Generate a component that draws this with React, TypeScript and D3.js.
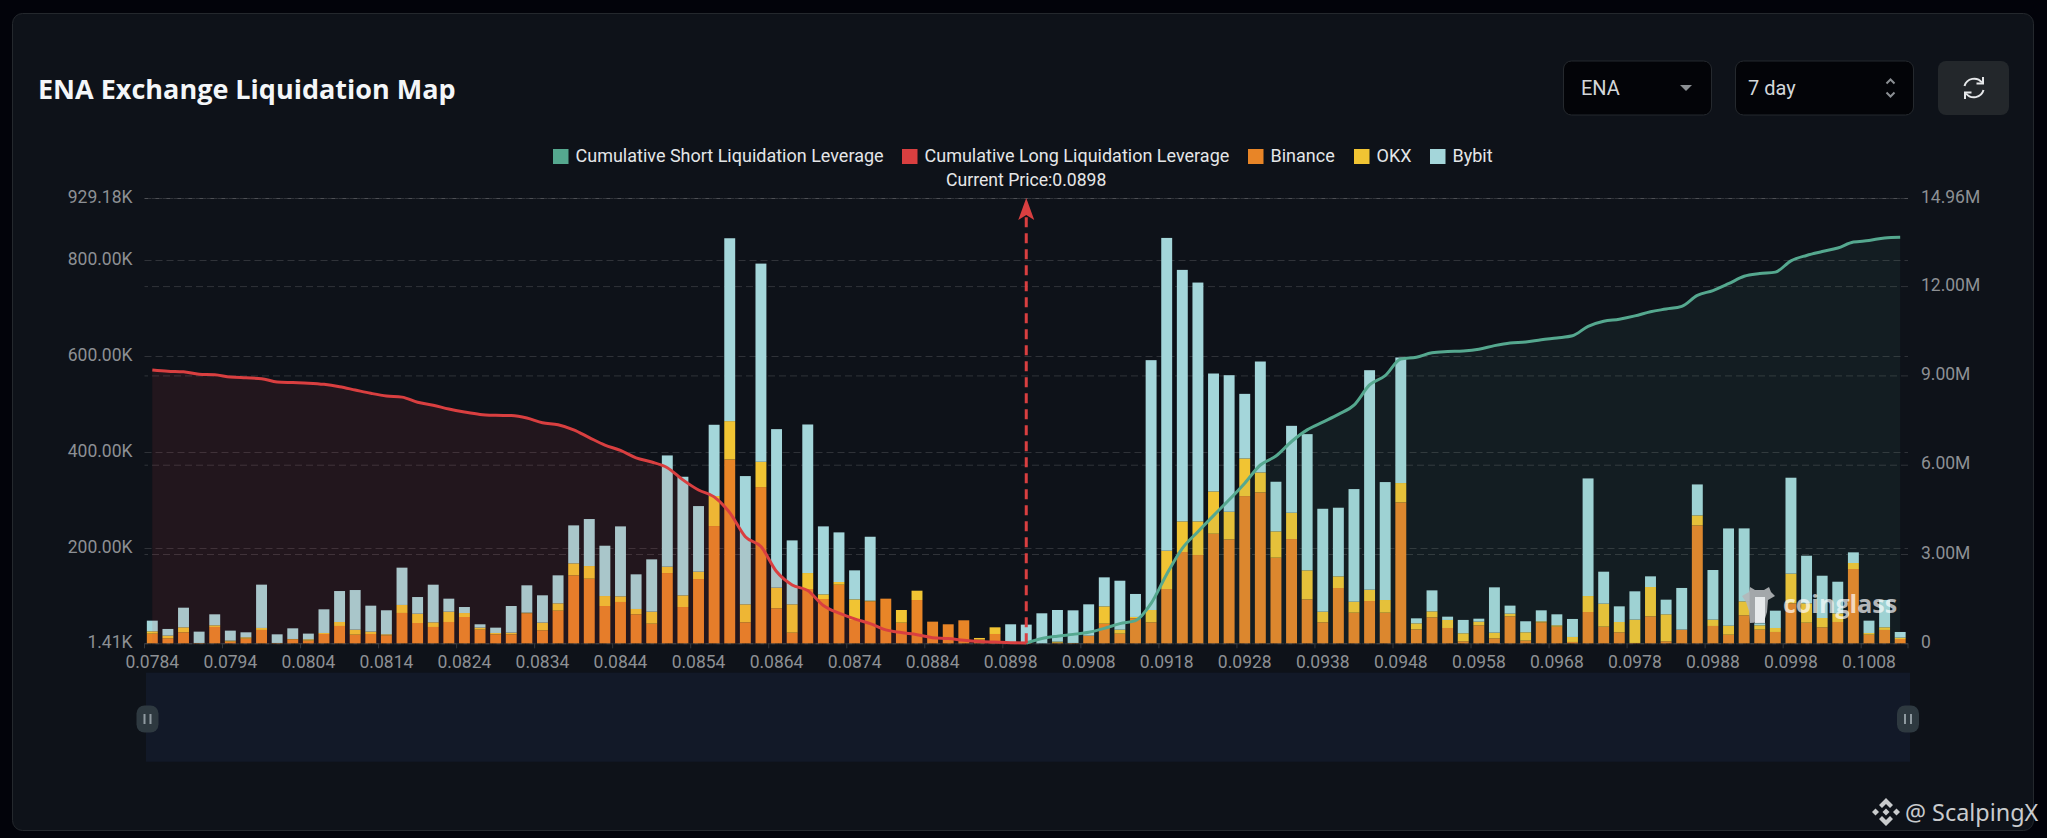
import { useEffect, useRef } from "react";
import * as d3 from "d3";

const prices = [
  0.0784, 0.0786, 0.0788, 0.079, 0.0792, 0.0794, 0.0796, 0.0798, 0.08, 0.0802, 0.0804, 0.0806, 0.0808, 0.081, 0.0812,
  0.0814, 0.0816, 0.0818, 0.082, 0.0822, 0.0824, 0.0826, 0.0828, 0.083, 0.0832, 0.0834, 0.0836, 0.0838, 0.084, 0.0842,
  0.0844, 0.0846, 0.0848, 0.085, 0.0852, 0.0854, 0.0856, 0.0858, 0.086, 0.0862, 0.0864, 0.0866, 0.0868, 0.087, 0.0872,
  0.0874, 0.0876, 0.0878, 0.088, 0.0882, 0.0884, 0.0887, 0.0889, 0.0892, 0.0895, 0.08976, 0.08984, 0.09, 0.0903, 0.0905,
  0.0908, 0.091, 0.0912, 0.0914, 0.0916, 0.0918, 0.092, 0.0922, 0.0924, 0.0926, 0.0928, 0.093, 0.0932, 0.0934, 0.0936,
  0.0938, 0.094, 0.0942, 0.0944, 0.0946, 0.0948, 0.095, 0.0952, 0.0954, 0.0956, 0.0958, 0.096, 0.0962, 0.0964, 0.0966,
  0.0968, 0.097, 0.0972, 0.0974, 0.0976, 0.0978, 0.098, 0.0982, 0.0984, 0.0986, 0.0988, 0.099, 0.0992, 0.0994, 0.0996,
  0.0998, 0.1, 0.1002, 0.1004, 0.1006, 0.1008, 0.101, 0.1012,
];

// thousands, one value per price
const binance = [
  20.1, 10.4, 22.9, 0.7, 34, 3.5, 9.7, 27.8, 0.7, 8.3, 5.6, 19.4, 36.1, 18, 19.4, 16.7, 63.2, 42.3, 34, 44.4, 54.8, 28.5,
  18.7, 18.7, 62.5, 27.1, 68, 141.6, 134.6, 77.7, 86.1, 60.4, 40.9, 146.4, 75.6, 133.9, 244.3, 383.1, 43.7, 325.5, 72.9,
  22.2, 113.1, 92.3, 122.1, 48.6, 87.4, 93, 43, 90.2, 45.1, 39.6, 47.9, 8.3, 19.4, 0.7, 0.7, 0, 1.4, 0.7, 16, 40.9, 20.1,
  52.1, 43.7, 113.1, 190.2, 183.9, 228.3, 216.5, 306.7, 314.4, 178.4, 217.2, 91.6, 43.7, 115.2, 63.8, 88.1, 63.8, 293.6,
  29.1, 54.1, 31.9, 4.2, 37.5, 10.4, 56.2, 5.6, 43.7, 34.7, 2.8, 65.2, 34.7, 22.9, 0.7, 56.2, 4.2, 28.5, 245.7, 36.1, 18,
  58.3, 28.5, 23.6, 83.3, 43, 33.3, 44.4, 154.8, 18, 27.8, 9,
];
const okx = [
  4.9, 5.6, 10.4, 0, 3.5, 2.1, 2.8, 4.2, 0, 0.7, 2.8, 2.1, 8.3, 10.4, 4.9, 2.1, 16.7, 19.4, 9.7, 21.5, 8.3, 4.2, 2.8, 3.5,
  1.4, 16, 15.3, 25, 26.4, 20.8, 11.8, 11.1, 25, 13.2, 24.3, 15.3, 62.5, 79.8, 37.5, 52.7, 43, 59, 33.3, 9.7, 5.6, 43, 1.4,
  0, 26.4, 19.4, 0, 0, 0, 2.8, 13.9, 0, 0, 0, 2.1, 0, 0, 36.1, 8.3, 2.8, 25.7, 79.8, 63.8, 70.1, 88.1, 57.6, 78.4, 41.6,
  54.8, 54.8, 60.4, 22.2, 24.3, 22.9, 23.6, 26.4, 40.3, 12.5, 12.5, 16.7, 16.7, 7.6, 11.8, 5.6, 17.4, 2.1, 2.8, 10.4, 33.3,
  47.9, 21.5, 48.6, 61.1, 56.2, 0, 20.8, 13.2, 18.7, 29.1, 9, 8.3, 61.8, 40.3, 19.4, 18, 12.5, 3.5, 5.6, 2.8,
];
const bybit = [
  22.2, 13.9, 40.9, 23.6, 22.9, 20.8, 10.4, 90.2, 18, 22.2, 11.8, 49.3, 64.5, 82.6, 54.1, 50, 77.7, 34.7, 78.4, 27.1, 12.5,
  6.9, 11.1, 55.5, 56.9, 56.9, 58.3, 79.1, 97.9, 104.8, 145.7, 72.2, 109, 231.8, 247.1, 136.7, 148.5, 381, 267.2, 412.9,
  330.3, 133.2, 309.5, 141.6, 103.4, 60.4, 133.2, 0, 0, 0, 0, 0, 0, 0, 0, 38.9, 38.2, 62.5, 65.9, 68, 65.2, 60.4, 102, 47.9,
  520.5, 651.7, 524, 497.6, 245.7, 284.5, 134.6, 231.1, 103.4, 181.1, 283.8, 214.4, 143, 234.6, 457.3, 245.7, 261.6, 10.4,
  43.7, 6.9, 27.8, 6.2, 94.4, 16.7, 22.9, 22.9, 22.9, 37.5, 245, 66.6, 32.6, 59, 22.2, 30.5, 86.8, 64.5, 103.4, 202.6, 152,
  4.2, 36.1, 199.9, 99.2, 88.1, 65.9, 22.2, 25.7, 56.9, 11.8,
];

// millions, cumulative long runs from the first price up to the current one
const cumulativeLong = [
  9.18, 9.14, 9.12, 9.04, 9.02, 8.95, 8.92, 8.89, 8.78, 8.76, 8.74, 8.7, 8.62, 8.51, 8.4, 8.31, 8.27, 8.1, 8, 7.87, 7.77,
  7.69, 7.66, 7.65, 7.57, 7.41, 7.34, 7.17, 6.91, 6.66, 6.48, 6.23, 6.09, 5.9, 5.49, 5.15, 4.92, 4.39, 3.58, 3.25, 2.41,
  1.96, 1.77, 1.27, 1.01, 0.82, 0.66, 0.45, 0.36, 0.29, 0.19, 0.16, 0.1, 0.06, 0.04, 0.02, 0.01,
];
// millions, cumulative short runs from the current price to the last one
const cumulativeShort = [
  0.01, 0.16, 0.24, 0.3, 0.37, 0.5, 0.66, 0.76, 1.34, 2.32, 3.19, 3.75, 4.29, 4.82, 5.38, 5.99, 6.29, 6.78, 7.17, 7.43,
  7.69, 8, 8.68, 8.99, 9.55, 9.61, 9.76, 9.8, 9.82, 9.88, 10, 10.09, 10.12, 10.2, 10.26, 10.33, 10.65, 10.82, 10.89, 11,
  11.14, 11.23, 11.32, 11.69, 11.85, 12.08, 12.33, 12.42, 12.47, 12.85, 13.03, 13.16, 13.28, 13.48, 13.53, 13.62, 13.64,
];

const leftTicks = [1.41, 200, 400, 600, 800, 929.18];
const rightTicks = [0, 3, 6, 9, 12, 14.96];
const currentPrice = 0.08984;

const colors = {
  short: "#55a88f",
  long: "#d93f40",
  binance: "#e88527",
  okx: "#f1c433",
  bybit: "#a4d6da",
};

const legend = [
  { label: "Cumulative Short Liquidation Leverage", color: colors.short, x: 553 },
  { label: "Cumulative Long Liquidation Leverage", color: colors.long, x: 902 },
  { label: "Binance", color: colors.binance, x: 1248 },
  { label: "OKX", color: colors.okx, x: 1354 },
  { label: "Bybit", color: colors.bybit, x: 1430 },
];

const font = "Roboto, sans-serif";
const axisColor = "#8d9094";

export default function App() {
  const svgRef = useRef<SVGSVGElement | null>(null);

  useEffect(() => {
    const svg = d3.select(svgRef.current);
    svg.selectAll("*").remove();

    const left = 144.5;
    const right = 1908;
    const top = 198;
    const bottom = 643.3;

    // page and card
    svg.append("rect").attr("width", 2047).attr("height", 838).attr("fill", "#02030a");
    svg.append("rect")
      .attr("x", 12.5).attr("y", 13.5)
      .attr("width", 2021).attr("height", 817)
      .attr("rx", 10)
      .attr("fill", "#0e1219")
      .attr("stroke", "#24282d");

    const x = d3.scaleBand<number>()
      .domain(prices)
      .range([left, right])
      .paddingInner(0.3)
      .paddingOuter(0.15);
    const center = (p: number) => (x(p) as number) + x.bandwidth() / 2;

    const yLeft = d3.scaleLinear().domain([1.41, 929.18]).range([bottom, top]);
    const yRight = d3.scaleLinear().domain([0, 14.96]).range([bottom, top]);

    // grid comes from both value axes
    const styleAxis = (g: any) => {
      g.select(".domain").remove();
      g.selectAll(".tick line")
        .attr("stroke", "#ffffff")
        .attr("stroke-opacity", 0.14)
        .attr("stroke-dasharray", "7,4");
      g.selectAll(".tick text")
        .attr("fill", axisColor)
        .attr("dy", "0.24em")
        .style("font-family", font)
        .style("font-size", "17.5px");
    };

    svg.append("g")
      .attr("transform", `translate(${left},0)`)
      .call(d3.axisLeft(yLeft)
        .tickValues(leftTicks)
        .tickSize(-(right - left))
        .tickPadding(12)
        .tickFormat((d: any) => d3.format(".2f")(d) + "K"))
      .call(styleAxis);

    svg.append("g")
      .attr("transform", `translate(${right},0)`)
      .call(d3.axisRight(yRight)
        .tickValues(rightTicks)
        .tickSize(-(right - left))
        .tickPadding(13)
        .tickFormat((d: any) => (d === 0 ? "0" : d3.format(".2f")(d) + "M")))
      .call(styleAxis);

    // x axis, ticks sit on the band edges
    const xAxis = svg.append("g")
      .attr("transform", `translate(0,${bottom})`)
      .call(d3.axisBottom(x)
        .tickValues(prices.filter((_, i) => i % 5 === 0))
        .tickSize(5)
        .tickPadding(7)
        .tickFormat((d: any) => d.toFixed(4)));
    xAxis.select(".domain").remove();
    xAxis.selectAll(".tick line")
      .attr("x1", -x.step() / 2)
      .attr("x2", -x.step() / 2)
      .attr("stroke", "#34383d");
    xAxis.selectAll(".tick text")
      .attr("fill", axisColor)
      .style("font-family", font)
      .style("font-size", "17.5px");
    xAxis.append("line")
      .attr("x1", right).attr("x2", right)
      .attr("y1", 0).attr("y2", 5)
      .attr("stroke", "#34383d");

    // stacked bars
    const rows = prices.map((price, i) => ({ price, binance: binance[i], okx: okx[i], bybit: bybit[i] }));
    const stack = d3.stack<any>()
      .keys(["binance", "okx", "bybit"])
      .offset((series: any, order: any) => {
        d3.stackOffsetNone(series, order);
        series.forEach((s: any) => s.forEach((d: number[]) => {
          d[0] += 1.41;
          d[1] += 1.41;
        }));
      });
    svg.append("g")
      .selectAll("g")
      .data(stack(rows))
      .join("g")
      .attr("fill", (d) => (colors as any)[d.key])
      .selectAll("rect")
      .data((d) => d)
      .join("rect")
      .attr("x", (d) => x(d.data.price) as number)
      .attr("y", (d) => yLeft(d[1]))
      .attr("width", x.bandwidth())
      .attr("height", (d) => yLeft(d[0]) - yLeft(d[1]));

    // cumulative leverage, drawn over the bars
    const longPrices = prices.slice(0, cumulativeLong.length);
    const shortPrices = prices.slice(prices.indexOf(currentPrice));
    const area = d3.area<number>()
      .x((p) => center(p))
      .y0(bottom)
      .curve(d3.curveMonotoneX);
    const line = d3.line<number>()
      .x((p) => center(p))
      .curve(d3.curveMonotoneX);

    svg.append("path")
      .attr("fill", colors.long)
      .attr("fill-opacity", 0.1)
      .attr("d", area.y1((_, i) => yRight(cumulativeLong[i]))(longPrices));
    svg.append("path")
      .attr("fill", colors.short)
      .attr("fill-opacity", 0.08)
      .attr("d", area.y1((_, i) => yRight(cumulativeShort[i]))(shortPrices));
    svg.append("path")
      .attr("fill", "none")
      .attr("stroke", colors.long)
      .attr("stroke-width", 3)
      .attr("d", line.y((_, i) => yRight(cumulativeLong[i]))(longPrices));
    svg.append("path")
      .attr("fill", "none")
      .attr("stroke", colors.short)
      .attr("stroke-width", 3)
      .attr("d", line.y((_, i) => yRight(cumulativeShort[i]))(shortPrices));

    // current price marker
    const cx = center(currentPrice);
    svg.append("line")
      .attr("x1", cx).attr("x2", cx)
      .attr("y1", bottom).attr("y2", 216)
      .attr("stroke", colors.long)
      .attr("stroke-width", 3)
      .attr("stroke-dasharray", "10,6");
    svg.append("path")
      .attr("transform", `translate(${cx},198)`)
      .attr("fill", colors.long)
      .attr("d", "M0,0L8,22L0,17L-8,22Z");
    svg.append("text")
      .attr("x", cx).attr("y", 185.7)
      .attr("text-anchor", "middle")
      .attr("fill", "#e6e7e8")
      .style("font-family", font)
      .style("font-size", "17.6px")
      .text("Current Price:0.0898");

    // legend
    const items = svg.append("g")
      .selectAll("g")
      .data(legend)
      .join("g")
      .attr("transform", (d) => `translate(${d.x},149)`);
    items.append("rect")
      .attr("width", 15.5).attr("height", 15)
      .attr("fill", (d) => d.color);
    items.append("text")
      .attr("x", 22.5).attr("y", 12.8)
      .attr("fill", "#e4e6e8")
      .style("font-family", font)
      .style("font-size", "18px")
      .text((d) => d.label);

    // title
    svg.append("text")
      .attr("x", 38).attr("y", 99)
      .attr("fill", "#f4f6f8")
      .style("font-family", "'Open Sans', sans-serif")
      .style("font-weight", 700)
      .style("font-size", "27px")
      .text("ENA Exchange Liquidation Map");

    // controls
    const box = (bx: number, w: number, fill: string, stroke: string) =>
      svg.append("rect")
        .attr("x", bx).attr("y", 61)
        .attr("width", w).attr("height", 54)
        .attr("rx", 8)
        .attr("fill", fill)
        .attr("stroke", stroke);
    box(1563.5, 148, "#030408", "#25292e");
    box(1735.5, 178, "#030408", "#25292e");
    box(1938, 71, "#23272b", "none");
    const controlLabel = (tx: number, label: string) =>
      svg.append("text")
        .attr("x", tx).attr("y", 95)
        .attr("fill", "#d3d7da")
        .style("font-family", font)
        .style("font-size", "20px")
        .text(label);
    controlLabel(1581, "ENA");
    controlLabel(1748, "7 day");
    svg.append("path").attr("fill", "#8b8f93").attr("d", "M1680,85L1692,85L1686,91Z");
    svg.append("path")
      .attr("fill", "none").attr("stroke", "#8b8f93").attr("stroke-width", 2)
      .attr("d", "M1886.5,83.5L1890.5,79.5L1894.5,83.5M1886.5,92.5L1890.5,96.5L1894.5,92.5");

    // refresh icon
    const refresh = svg.append("g")
      .attr("transform", "translate(1974,88)")
      .attr("fill", "none")
      .attr("stroke", "#e6e8ea")
      .attr("stroke-width", 2);
    refresh.append("path").attr("d", "M-9.5,-2A10,10 0 0 1 8,-5.5M9.5,2A10,10 0 0 1 -8,5.5");
    refresh.append("path").attr("d", "M9,-11L9,-4.5L2.5,-4.5M-9,11L-9,4.5L-2.5,4.5");

    // zoom slider
    svg.append("rect")
      .attr("x", 146).attr("y", 672.7)
      .attr("width", 1764).attr("height", 89)
      .attr("fill", "#121928");
    [147.5, 1908].forEach((hx) => {
      svg.append("rect")
        .attr("x", hx - 11).attr("y", 705.5)
        .attr("width", 22).attr("height", 27)
        .attr("rx", 8)
        .attr("fill", "#2e3940");
      svg.append("path")
        .attr("stroke", "#8f9aa0")
        .attr("stroke-width", 2)
        .attr("d", `M${hx - 3},714V724M${hx + 3},714V724`);
    });

    // coinglass watermark
    const mark = svg.append("g");
    mark.append("path")
      .attr("fill", "#b4b7b9")
      .attr("opacity", 0.9)
      .attr("d", "M1742,596L1749,592L1750,587L1755,590L1764,590L1769,587L1771,592L1775,596L1768,600L1767,612L1764,622L1750,623L1749,611L1746,602Z");
    mark.append("rect")
      .attr("x", 1755).attr("y", 597)
      .attr("width", 10).attr("height", 26)
      .attr("fill", "#eef2f3")
      .attr("opacity", 0.9);
    mark.append("text")
      .attr("x", 1783).attr("y", 613)
      .attr("fill", "#ffffff")
      .attr("opacity", 0.68)
      .style("font-family", "'Open Sans', sans-serif")
      .style("font-weight", 700)
      .style("font-size", "25px")
      .text("coinglass");

    // credit, binance mark then handle
    const credit = svg.append("g")
      .attr("transform", "translate(1886,812)")
      .attr("fill", "#c9cbcd");
    credit.append("path").attr("d", "M0,-14L7,-7L4,-4L0,-8L-4,-4L-7,-7Z");
    credit.append("path").attr("d", "M0,14L7,7L4,4L0,8L-4,4L-7,7Z");
    credit.append("path").attr("d", "M-14,0L-10.5,-3.5L-7,0L-10.5,3.5Z");
    credit.append("path").attr("d", "M14,0L10.5,-3.5L7,0L10.5,3.5Z");
    credit.append("path").attr("d", "M0,-3.5L3.5,0L0,3.5L-3.5,0Z");
    svg.append("text")
      .attr("x", 1905).attr("y", 821)
      .attr("fill", "#c9cbcd")
      .style("font-family", "'Noto Sans', sans-serif")
      .style("font-size", "23.4px")
      .text("@ ScalpingX");
  }, []);

  return (
    <svg
      ref={svgRef}
      width={2047}
      height={838}
      style={{ position: "absolute", left: 0, top: 0, display: "block" }}
    />
  );
}
